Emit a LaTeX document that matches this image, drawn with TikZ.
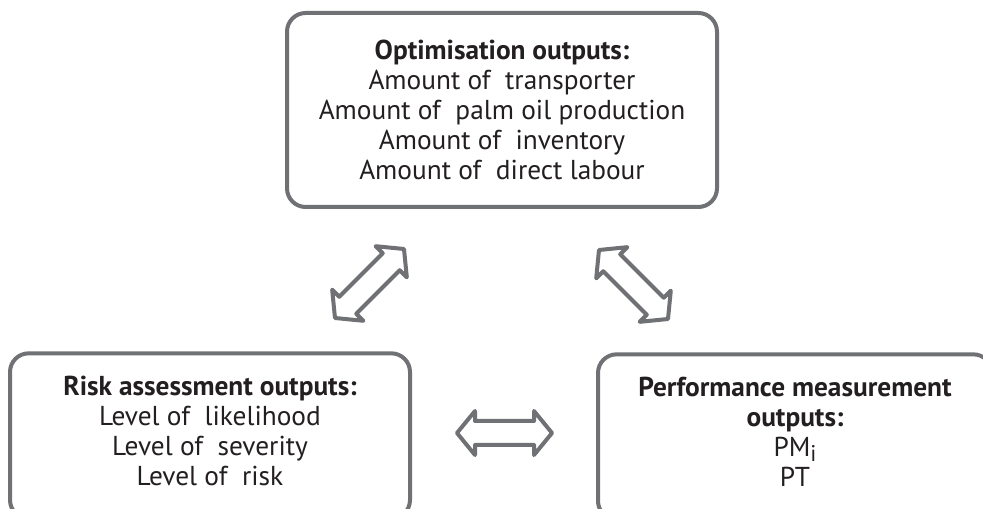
\documentclass[tikz,border=0pt]{standalone}
\usepackage{fontspec}
\setmainfont{PT Sans}
\usepackage{tikz}
\usetikzlibrary{
    positioning,  % Relative positioning
    calc          % Coordinate calculations
}
\definecolor{FrameGrey}{RGB}{112, 113, 116}
\definecolor{InkBlack}{RGB}{35, 31, 32}
\newcommand{\lowpad}[1]{\rule[-#1]{0pt}{#1}}

\tikzset{
    outbox/.style={draw=FrameGrey, line width=3pt, rounded corners=14pt,
        fill=white, align=center, text=InkBlack, inner sep=0pt,
        font=\fontsize{20.5}{22.5}\selectfont},
    % hollow double-headed block arrow between two points
    twoway/.style={draw=FrameGrey, line width=3pt, line join=round,
        to path={let \p1=(\tikztostart), \p2=(\tikztotarget),
            \n1={atan2(\y2-\y1,\x2-\x1)}, \n2={veclen(\x2-\x1,\y2-\y1)} in
            -- ++($(\n1:13.5pt)+(\n1+90:16.5pt)$)
            -- ++(\n1-90:7.5pt)
            -- ++(\n1:\n2-27pt)
            -- ++(\n1+90:7.5pt)
            -- (\tikztotarget)
            -- ++($(\n1+180:13.5pt)+(\n1-90:16.5pt)$)
            -- ++(\n1+90:7.5pt)
            -- ++(\n1+180:\n2-27pt)
            -- ++(\n1-90:7.5pt)
            -- cycle}}
}

\begin{document}
\begin{tikzpicture}[x=0.75pt, y=-0.75pt]
    \useasboundingbox (0,0) rectangle (983,509);
    \clip (0,0) rectangle (983,509);

    % Optimisation box
    \node[outbox, minimum width=322.5pt, minimum height=145.5pt] (optim) at (502,110)
        {\textbf{Optimisation outputs:}\\
         Amount of~ transporter\\
         Amount of~ palm oil production\\
         Amount of~ inventory\\
         Amount of~ direct labour};

    % Risk box
    \node[outbox, minimum width=300pt, minimum height=124pt] (risk) at (210,436)
        {\textbf{Risk assessment outputs:}\\
         Level of~ likelihood\\
         Level of~ severity\\
         Level of~ risk\lowpad{7.5pt}};

    % Performance box
    \node[outbox, minimum width=295.5pt, minimum height=124pt] (perf) at (795,437)
        {\textbf{Performance measurement}\\
         \textbf{outputs:}\\
         PM\raisebox{-0.35ex}{\fontsize{17}{17}\selectfont i}\\
         PT\lowpad{7.5pt}};

    % Arrow ends
    \coordinate (riskup) at (335,318);
    \coordinate (optimleft) at (404,249);
    \coordinate (optimright) at (599,250);
    \coordinate (perfup) at (668,319);
    \coordinate (riskright) at (457,433);
    \coordinate (perfleft) at (552,433);

    \draw[twoway] (riskup) to (optimleft);
    \draw[twoway] (optimright) to (perfup);
    \draw[twoway] (riskright) to (perfleft);
\end{tikzpicture}
\end{document}
